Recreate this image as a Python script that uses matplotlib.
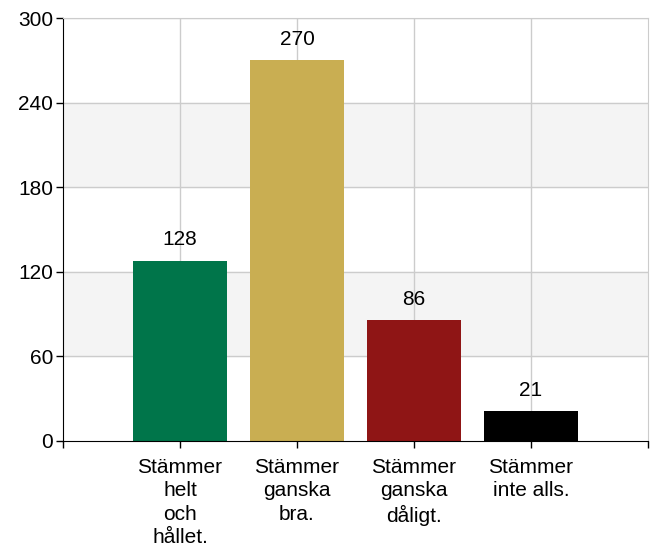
import matplotlib.pyplot as plt

categories = ['Stämmer\nhelt\noch\nhållet.', 'Stämmer\nganska\nbra.', 'Stämmer\nganska\ndåligt.', 'Stämmer\ninte alls.']
values = [128, 270, 86, 21]
colors = ['#00754a', '#c9ae52', '#8f1515', '#000000']
yticks = [0, 60, 120, 180, 240, 300]

plt.rcParams['font.family'] = ['Liberation Sans', 'DejaVu Sans']

fig = plt.figure(figsize=(6.55, 5.52), dpi=100)
ax = fig.add_axes([63 / 655, 1 - 441 / 552, 585 / 655, 423 / 552])

# alternating bands
for lo in [60, 180]:
    ax.axhspan(lo, lo + 60, color='#f4f4f4', zorder=0)
for y in yticks[1:]:
    ax.axhline(y, color='#cccccc', lw=1, zorder=1)
pos = list(range(1, len(values) + 1))
for x in pos:
    ax.axvline(x, color='#cccccc', lw=1, zorder=1)

ax.bar(pos, values, width=0.8, color=colors, zorder=2)
for x, v in zip(pos, values):
    ax.annotate(str(v), (x, v), xytext=(0, 8), textcoords='offset points',
                ha='center', va='bottom', fontsize=15)

ax.set_xlim(0, 5)
ax.set_ylim(0, 300)
ax.set_yticks(yticks)
ax.set_xticks([0] + pos + [5])
ax.set_xticklabels([''] + categories + [''], fontsize=15, linespacing=1.3)
ax.tick_params(axis='y', labelsize=15, length=5, width=1, pad=2)
ax.tick_params(axis='x', length=5, width=1, pad=7)

ax.spines['left'].set_color('black')
ax.spines['bottom'].set_color('black')
ax.spines['top'].set_color('#cccccc')
ax.spines['right'].set_color('#cccccc')
for s in ax.spines.values():
    s.set_zorder(3)

fig.savefig('out.png', dpi=100)
